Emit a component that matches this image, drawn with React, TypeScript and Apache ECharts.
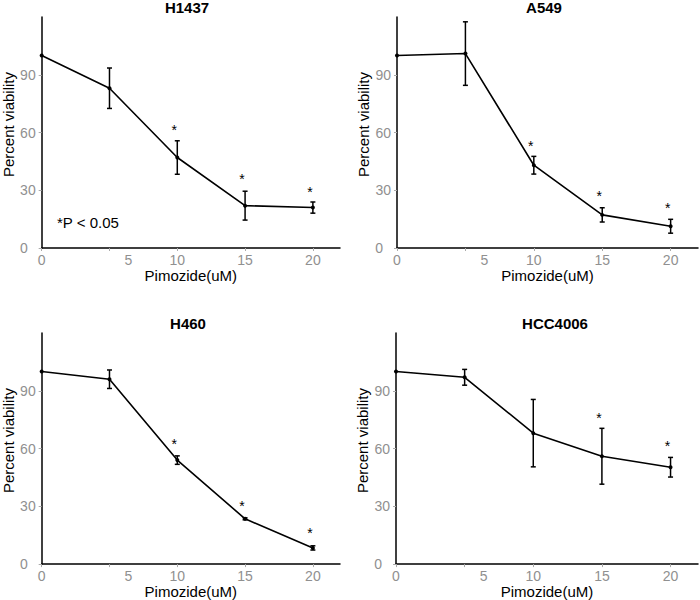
import React, { useEffect, useRef } from "react";
import * as echarts from "echarts";

const doses = [0, 5, 10, 15, 20];
const xTickValues = [0, 5, 10, 15, 20];
const yTickValues = [0, 30, 60, 90];
const panelNames = ["H1437", "A549", "H460", "HCC4006"];

const h1437Mean = [100, 83, 47, 22, 21];
const h1437Err = [0, 10.5, 8.7, 7.5, 2.9];
const h1437Sig = [null, null, 63.5, 37.7, 31.4];

const a549Mean = [100, 101, 43, 17.2, 11.3];
const a549Err = [0, 16.5, 4.6, 3.7, 3.6];
const a549Sig = [null, null, 54.9, 29.2, 22.8];

const h460Mean = [100, 96, 54, 23.5, 8.4];
const h460Err = [0, 4.8, 2.2, 0.5, 1.1];
const h460Sig = [null, null, 64.3, 32.2, 18];

const hcc4006Mean = [100, 97, 68, 56, 50.3];
const hcc4006Err = [0, 4.1, 17.5, 14.5, 5.1];
const hcc4006Sig = [null, null, null, 78, 63.5];

const FONT = '"Liberation Sans", Arial, sans-serif';

export default function App() {
  const ref = useRef<HTMLDivElement>(null);

  useEffect(() => {
    const chart = echarts.init(ref.current!, null, { renderer: "svg" });
    const means = [h1437Mean, a549Mean, h460Mean, hcc4006Mean];
    const errs = [h1437Err, a549Err, h460Err, hcc4006Err];
    const sigs = [h1437Sig, a549Sig, h460Sig, hcc4006Sig];

    const grids = [
      { left: 39, top: 17, width: 301, height: 231 },
      { left: 397, top: 17, width: 301, height: 231 },
      { left: 39, top: 333, width: 301, height: 232 },
      { left: 396, top: 333, width: 302, height: 232 },
    ];
    const titlePos = [
      { left: 187, top: 0 },
      { left: 544, top: 0 },
      { left: 188, top: 316 },
      { left: 555, top: 316 },
    ];

    const grey = "#909090";

    const xAxes = grids.map((_, i) => ({
      type: "value",
      gridIndex: i,
      min: 0,
      max: 22,
      interval: 5,
      axisLine: { show: true, lineStyle: { color: "#000", width: 1.5 } },
      axisTick: { show: true, customValues: xTickValues, length: 3, lineStyle: { color: "#aaa" } },
      axisLabel: {
        customValues: xTickValues,
        color: grey,
        fontSize: 14,
        fontFamily: FONT,
        margin: 5,
        formatter: (v: number) => (v === 5 ? "{s|5}" : String(v)),
        rich: { s: { color: grey, fontSize: 14, fontFamily: FONT, padding: [0, 0, 0, 38] } },
      },
      splitLine: { show: false },
      name: "Pimozide(uM)",
      nameLocation: "middle",
      nameGap: 17,
      nameTextStyle: { color: "#000", fontSize: 15, fontFamily: FONT },
    }));

    const yAxes = grids.map((_, i) => ({
      type: "value",
      gridIndex: i,
      min: 0,
      max: 120,
      interval: 30,
      axisLine: { show: true, lineStyle: { color: "#000", width: 1.5 } },
      axisTick: { show: true, customValues: yTickValues, length: 3, lineStyle: { color: "#aaa" } },
      axisLabel: {
        customValues: yTickValues,
        color: grey,
        fontSize: 14,
        fontFamily: FONT,
        margin: 6,
        formatter: (v: number) => (v === 0 ? "{z|0}" : String(v)),
        rich: { z: { color: grey, fontSize: 14, fontFamily: FONT, padding: [0, 8, 0, 0] } },
      },
      splitLine: { show: false },
      name: "Percent viability",
      nameLocation: "middle",
      nameGap: 22,
      nameTextStyle: { color: "#000", fontSize: 15, fontFamily: FONT, padding: [0, 0, 0, 16] },
    }));

    const series: any[] = [];
    grids.forEach((_, i) => {
      series.push({
        type: "line",
        xAxisIndex: i,
        yAxisIndex: i,
        data: doses.map((d, k) => [d, means[i][k]]),
        symbol: "circle",
        symbolSize: 4,
        showSymbol: true,
        lineStyle: { color: "#000", width: 1.6 },
        itemStyle: { color: "#000" },
        z: 2,
      });
      series.push({
        type: "custom",
        xAxisIndex: i,
        yAxisIndex: i,
        data: doses
          .map((d, k) => [d, means[i][k] - errs[i][k], means[i][k] + errs[i][k], errs[i][k]])
          .filter((r) => r[3] > 0),
        encode: { x: 0, y: [1, 2] },
        renderItem: (params: any, api: any) => {
          const x = api.value(0);
          const lo = api.coord([x, api.value(1)]);
          const hi = api.coord([x, api.value(2)]);
          const cw = 2.5;
          const st = { stroke: "#000", lineWidth: 1.5 };
          return {
            type: "group",
            children: [
              { type: "line", shape: { x1: lo[0], y1: lo[1], x2: hi[0], y2: hi[1] }, style: st },
              { type: "line", shape: { x1: lo[0] - cw, y1: lo[1], x2: lo[0] + cw, y2: lo[1] }, style: st },
              { type: "line", shape: { x1: hi[0] - cw, y1: hi[1], x2: hi[0] + cw, y2: hi[1] }, style: st },
            ],
          };
        },
        z: 3,
      });
      series.push({
        type: "custom",
        xAxisIndex: i,
        yAxisIndex: i,
        data: doses
          .map((d, k) => [d, sigs[i][k]])
          .filter((r) => r[1] !== null),
        encode: { x: 0, y: 1 },
        renderItem: (params: any, api: any) => {
          const p = api.coord([api.value(0), api.value(1)]);
          return {
            type: "text",
            x: p[0] - 3,
            y: p[1] + 4,
            style: {
              text: "*",
              fill: "#000",
              font: `14px ${FONT}`,
              textAlign: "center",
              textVerticalAlign: "middle",
            },
          };
        },
        z: 4,
      });
    });

    chart.setOption({
      animation: false,
      backgroundColor: "#fff",
      title: panelNames.map((n, i) => ({
        text: n,
        left: titlePos[i].left,
        top: titlePos[i].top,
        padding: 0,
        textAlign: "center",
        textStyle: { fontSize: 15, fontWeight: "bold", color: "#000", fontFamily: FONT },
      })),
      grid: grids,
      xAxis: xAxes,
      yAxis: yAxes,
      series,
      graphic: [
        {
          type: "text",
          left: 57,
          top: 215,
          style: { text: "*P < 0.05", font: `15px ${FONT}`, fill: "#000" },
        },
      ],
    });

    return () => chart.dispose();
  }, []);

  return (
    <div
      ref={ref}
      style={{ position: "fixed", left: 0, top: 0, width: 700, height: 600, background: "#fff" }}
    />
  );
}
